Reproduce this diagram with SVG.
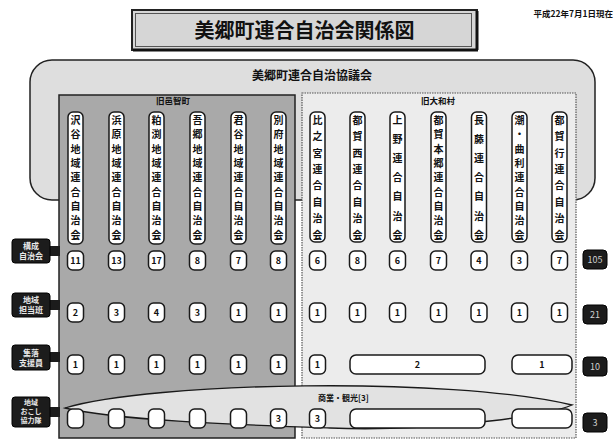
<svg xmlns="http://www.w3.org/2000/svg" width="615" height="439" viewBox="0 0 615 439">
<defs>
<style>
text{font-family:"Noto Sans CJK JP","Noto Sans",sans-serif;font-weight:bold;fill:#111}
.pill{fill:#fff;stroke:#1a1a1a;stroke-width:1.5}
.pt{font-size:10px;text-anchor:middle}
.nb{fill:#fff;stroke:#1a1a1a;stroke-width:1.5}
.nt{font-size:9px;text-anchor:middle}
.lab{fill:#1c1c1c;stroke:#000;stroke-width:1}
.lt{font-size:8px;fill:#e8e8e8;text-anchor:middle}
.tot{fill:#1c1c1c;stroke:#000;stroke-width:1}
.tt{font-size:9px;fill:#d0d0d0;text-anchor:middle;font-weight:normal}
</style>
</defs>
<rect width="615" height="439" fill="#fff"/>

<g id="date"><text x="613" y="17" font-size="8.5" text-anchor="end">平成22年7月1日現在</text></g>

<g id="title">
<rect x="132" y="10" width="345" height="40" fill="#d6d6d6" stroke="#222" stroke-width="2"/>
<rect x="135.5" y="13.5" width="336" height="33" fill="none" stroke="#555" stroke-width="1"/>
<line x1="477" y1="11" x2="477" y2="50" stroke="#111" stroke-width="3"/>
<line x1="133" y1="50" x2="478" y2="50" stroke="#111" stroke-width="3"/>
<text x="304.5" y="38" font-size="20" text-anchor="middle">美郷町連合自治会関係図</text>
</g>

<g id="council">
<rect x="30" y="60" width="565" height="140" rx="22" fill="#dedede" stroke="#222" stroke-width="1.5"/>
<text x="312" y="79.5" font-size="12" text-anchor="middle">美郷町連合自治協議会</text>
</g>

<g id="group-ochi">
<rect x="59" y="95" width="236" height="343" fill="#a9a9a9" stroke="#222" stroke-width="1.5"/>
<text x="173" y="103.5" font-size="8.5" text-anchor="middle">旧邑智町</text>
</g>
<g id="group-daiwa">
<rect x="302" y="93" width="274" height="345" fill="#ececec" stroke="#555" stroke-width="1.2" stroke-dasharray="1.5,1"/>
<text x="438" y="104" font-size="8.5" text-anchor="middle">旧大和村</text>
</g>

<g id="connectors">
<path d="M65,408 C150,382 450,376 572,405 C540,418 420,432 330,428 C250,425 120,421 65,408 Z" fill="#e2e2e2" stroke="#1a1a1a" stroke-width="1.3"/>
<text x="318" y="401" font-size="8">商業・観光[3]</text>
<rect x="49" y="246" width="11" height="10" fill="#1c1c1c"/>
<rect x="49" y="300" width="11" height="10" fill="#1c1c1c"/>
<rect x="49" y="352" width="11" height="10" fill="#1c1c1c"/>
<rect x="49" y="407" width="11" height="10" fill="#1c1c1c"/>
</g>

<g id="col-sawadani"><rect class="pill" x="68" y="112" width="15" height="132" rx="5"/>
<text class="pt"><tspan x="75.5" y="123.7">沢</tspan><tspan x="75.5" y="138.1">谷</tspan><tspan x="75.5" y="152.5">地</tspan><tspan x="75.5" y="166.8">域</tspan><tspan x="75.5" y="181.2">連</tspan><tspan x="75.5" y="195.6">合</tspan><tspan x="75.5" y="210">自</tspan><tspan x="75.5" y="224.3">治</tspan><tspan x="75.5" y="238.7">会</tspan></text></g>
<g id="col-hamahara"><rect class="pill" x="109" y="112" width="15" height="132" rx="5"/>
<text class="pt"><tspan x="116.5" y="123.7">浜</tspan><tspan x="116.5" y="138.1">原</tspan><tspan x="116.5" y="152.5">地</tspan><tspan x="116.5" y="166.8">域</tspan><tspan x="116.5" y="181.2">連</tspan><tspan x="116.5" y="195.6">合</tspan><tspan x="116.5" y="210">自</tspan><tspan x="116.5" y="224.3">治</tspan><tspan x="116.5" y="238.7">会</tspan></text></g>
<g id="col-kasubuchi"><rect class="pill" x="149" y="112" width="15" height="132" rx="5"/>
<text class="pt"><tspan x="156.5" y="123.7">粕</tspan><tspan x="156.5" y="138.1">渕</tspan><tspan x="156.5" y="152.5">地</tspan><tspan x="156.5" y="166.8">域</tspan><tspan x="156.5" y="181.2">連</tspan><tspan x="156.5" y="195.6">合</tspan><tspan x="156.5" y="210">自</tspan><tspan x="156.5" y="224.3">治</tspan><tspan x="156.5" y="238.7">会</tspan></text></g>
<g id="col-ago"><rect class="pill" x="190" y="112" width="15" height="132" rx="5"/>
<text class="pt"><tspan x="197.5" y="123.7">吾</tspan><tspan x="197.5" y="138.1">郷</tspan><tspan x="197.5" y="152.5">地</tspan><tspan x="197.5" y="166.8">域</tspan><tspan x="197.5" y="181.2">連</tspan><tspan x="197.5" y="195.6">合</tspan><tspan x="197.5" y="210">自</tspan><tspan x="197.5" y="224.3">治</tspan><tspan x="197.5" y="238.7">会</tspan></text></g>
<g id="col-kimidani"><rect class="pill" x="231" y="112" width="15" height="132" rx="5"/>
<text class="pt"><tspan x="238.5" y="123.7">君</tspan><tspan x="238.5" y="138.1">谷</tspan><tspan x="238.5" y="152.5">地</tspan><tspan x="238.5" y="166.8">域</tspan><tspan x="238.5" y="181.2">連</tspan><tspan x="238.5" y="195.6">合</tspan><tspan x="238.5" y="210">自</tspan><tspan x="238.5" y="224.3">治</tspan><tspan x="238.5" y="238.7">会</tspan></text></g>
<g id="col-befu"><rect class="pill" x="271" y="112" width="15" height="132" rx="5"/>
<text class="pt"><tspan x="278.5" y="123.7">別</tspan><tspan x="278.5" y="138.1">府</tspan><tspan x="278.5" y="152.5">地</tspan><tspan x="278.5" y="166.8">域</tspan><tspan x="278.5" y="181.2">連</tspan><tspan x="278.5" y="195.6">合</tspan><tspan x="278.5" y="210">自</tspan><tspan x="278.5" y="224.3">治</tspan><tspan x="278.5" y="238.7">会</tspan></text></g>

<g id="col-hinomiya"><rect class="pill" x="310" y="112" width="15" height="130" rx="5"/>
<text class="pt"><tspan x="317.5" y="123.7">比</tspan><tspan x="317.5" y="140.1">之</tspan><tspan x="317.5" y="156.6">宮</tspan><tspan x="317.5" y="173">連</tspan><tspan x="317.5" y="189.4">合</tspan><tspan x="317.5" y="205.8">自</tspan><tspan x="317.5" y="222.3">治</tspan><tspan x="317.5" y="238.7">会</tspan></text></g>
<g id="col-tsuganishi"><rect class="pill" x="350" y="112" width="15" height="130" rx="5"/>
<text class="pt"><tspan x="357.5" y="123.7">都</tspan><tspan x="357.5" y="140.1">賀</tspan><tspan x="357.5" y="156.6">西</tspan><tspan x="357.5" y="173">連</tspan><tspan x="357.5" y="189.4">合</tspan><tspan x="357.5" y="205.8">自</tspan><tspan x="357.5" y="222.3">治</tspan><tspan x="357.5" y="238.7">会</tspan></text></g>
<g id="col-kamino"><rect class="pill" x="390" y="112" width="15" height="130" rx="5"/>
<text class="pt"><tspan x="397.5" y="123.7">上</tspan><tspan x="397.5" y="142.9">野</tspan><tspan x="397.5" y="162">連</tspan><tspan x="397.5" y="181.2">合</tspan><tspan x="397.5" y="200.4">自</tspan><tspan x="397.5" y="219.5">治</tspan><tspan x="397.5" y="238.7">会</tspan></text></g>
<g id="col-tsugahongo"><rect class="pill" x="431" y="112" width="15" height="130" rx="5"/>
<text class="pt"><tspan x="438.5" y="123.7">都</tspan><tspan x="438.5" y="138.1">賀</tspan><tspan x="438.5" y="152.5">本</tspan><tspan x="438.5" y="166.8">郷</tspan><tspan x="438.5" y="181.2">連</tspan><tspan x="438.5" y="195.6">合</tspan><tspan x="438.5" y="210">自</tspan><tspan x="438.5" y="224.3">治</tspan><tspan x="438.5" y="238.7">会</tspan></text></g>
<g id="col-nagafuji"><rect class="pill" x="471.5" y="112" width="15" height="130" rx="5"/>
<text class="pt"><tspan x="479" y="123.7">長</tspan><tspan x="479" y="142.9">藤</tspan><tspan x="479" y="162">連</tspan><tspan x="479" y="181.2">合</tspan><tspan x="479" y="200.4">自</tspan><tspan x="479" y="219.5">治</tspan><tspan x="479" y="238.7">会</tspan></text></g>
<g id="col-ushio-magari"><rect class="pill" x="512" y="112" width="15" height="130" rx="5"/>
<text class="pt"><tspan x="519.5" y="123.7">潮</tspan><tspan x="519.5" y="138.1">・</tspan><tspan x="519.5" y="152.5">曲</tspan><tspan x="519.5" y="166.8">利</tspan><tspan x="519.5" y="181.2">連</tspan><tspan x="519.5" y="195.6">合</tspan><tspan x="519.5" y="210">自</tspan><tspan x="519.5" y="224.3">治</tspan><tspan x="519.5" y="238.7">会</tspan></text></g>
<g id="col-tsugayuki"><rect class="pill" x="552" y="112" width="15" height="130" rx="5"/>
<text class="pt"><tspan x="559.5" y="123.7">都</tspan><tspan x="559.5" y="140.1">賀</tspan><tspan x="559.5" y="156.6">行</tspan><tspan x="559.5" y="173">連</tspan><tspan x="559.5" y="189.4">合</tspan><tspan x="559.5" y="205.8">自</tspan><tspan x="559.5" y="222.3">治</tspan><tspan x="559.5" y="238.7">会</tspan></text></g>

<g id="row-labels">
<rect class="lab" x="12" y="239" width="38" height="24" rx="3"/>
<text class="lt"><tspan x="31" y="249">構成</tspan><tspan x="31" y="259">自治会</tspan></text>
<rect class="lab" x="12" y="293" width="38" height="24" rx="3"/>
<text class="lt"><tspan x="31" y="303">地域</tspan><tspan x="31" y="313">担当班</tspan></text>
<rect class="lab" x="12" y="345" width="38" height="25" rx="3"/>
<text class="lt"><tspan x="31" y="355.5">集落</tspan><tspan x="31" y="365.5">支援員</tspan></text>
<rect class="lab" x="12" y="397" width="38" height="30" rx="3"/>
<text class="lt" style="font-size:7px"><tspan x="31" y="405">地域</tspan><tspan x="31" y="413.8">おこし</tspan><tspan x="31" y="422.6">協力隊</tspan></text>
</g>

<g id="row1">
<rect class="nb" x="67.5" y="251" width="16" height="19" rx="5"/><text class="nt" x="75.5" y="263.7">11</text>
<rect class="nb" x="108.5" y="251" width="16" height="19" rx="5"/><text class="nt" x="116.5" y="263.7">13</text>
<rect class="nb" x="148.5" y="251" width="16" height="19" rx="5"/><text class="nt" x="156.5" y="263.7">17</text>
<rect class="nb" x="189.5" y="251" width="16" height="19" rx="5"/><text class="nt" x="197.5" y="263.7">8</text>
<rect class="nb" x="230.5" y="251" width="16" height="19" rx="5"/><text class="nt" x="238.5" y="263.7">7</text>
<rect class="nb" x="270.5" y="251" width="16" height="19" rx="5"/><text class="nt" x="278.5" y="263.7">8</text>
<rect class="nb" x="309.5" y="251" width="16" height="19" rx="5"/><text class="nt" x="317.5" y="263.7">6</text>
<rect class="nb" x="349.5" y="251" width="16" height="19" rx="5"/><text class="nt" x="357.5" y="263.7">8</text>
<rect class="nb" x="389.5" y="251" width="16" height="19" rx="5"/><text class="nt" x="397.5" y="263.7">6</text>
<rect class="nb" x="430.5" y="251" width="16" height="19" rx="5"/><text class="nt" x="438.5" y="263.7">7</text>
<rect class="nb" x="471" y="251" width="16" height="19" rx="5"/><text class="nt" x="479" y="263.7">4</text>
<rect class="nb" x="511.5" y="251" width="16" height="19" rx="5"/><text class="nt" x="519.5" y="263.7">3</text>
<rect class="nb" x="551.5" y="251" width="16" height="19" rx="5"/><text class="nt" x="559.5" y="263.7">7</text>
</g>

<g id="row2">
<rect class="nb" x="67.5" y="303" width="16" height="19" rx="5"/><text class="nt" x="75.5" y="315.7">2</text>
<rect class="nb" x="108.5" y="303" width="16" height="19" rx="5"/><text class="nt" x="116.5" y="315.7">3</text>
<rect class="nb" x="148.5" y="303" width="16" height="19" rx="5"/><text class="nt" x="156.5" y="315.7">4</text>
<rect class="nb" x="189.5" y="303" width="16" height="19" rx="5"/><text class="nt" x="197.5" y="315.7">3</text>
<rect class="nb" x="230.5" y="303" width="16" height="19" rx="5"/><text class="nt" x="238.5" y="315.7">1</text>
<rect class="nb" x="270.5" y="303" width="16" height="19" rx="5"/><text class="nt" x="278.5" y="315.7">1</text>
<rect class="nb" x="309.5" y="303" width="16" height="19" rx="5"/><text class="nt" x="317.5" y="315.7">1</text>
<rect class="nb" x="349.5" y="303" width="16" height="19" rx="5"/><text class="nt" x="357.5" y="315.7">1</text>
<rect class="nb" x="389.5" y="303" width="16" height="19" rx="5"/><text class="nt" x="397.5" y="315.7">1</text>
<rect class="nb" x="430.5" y="303" width="16" height="19" rx="5"/><text class="nt" x="438.5" y="315.7">1</text>
<rect class="nb" x="471" y="303" width="16" height="19" rx="5"/><text class="nt" x="479" y="315.7">1</text>
<rect class="nb" x="511.5" y="303" width="16" height="19" rx="5"/><text class="nt" x="519.5" y="315.7">1</text>
<rect class="nb" x="551.5" y="303" width="16" height="19" rx="5"/><text class="nt" x="559.5" y="315.7">1</text>
</g>

<g id="row3">
<rect class="nb" x="67.5" y="355" width="16" height="19" rx="5"/><text class="nt" x="75.5" y="367.7">1</text>
<rect class="nb" x="108.5" y="355" width="16" height="19" rx="5"/><text class="nt" x="116.5" y="367.7">1</text>
<rect class="nb" x="148.5" y="355" width="16" height="19" rx="5"/><text class="nt" x="156.5" y="367.7">1</text>
<rect class="nb" x="189.5" y="355" width="16" height="19" rx="5"/><text class="nt" x="197.5" y="367.7">1</text>
<rect class="nb" x="230.5" y="355" width="16" height="19" rx="5"/><text class="nt" x="238.5" y="367.7">1</text>
<rect class="nb" x="270.5" y="355" width="16" height="19" rx="5"/><text class="nt" x="278.5" y="367.7">1</text>
<rect class="nb" x="309.5" y="355" width="16" height="19" rx="5"/><text class="nt" x="317.5" y="367.7">1</text>
<rect class="nb" x="350" y="355" width="135" height="19" rx="6"/><text class="nt" x="417.5" y="367.7">2</text>
<rect class="nb" x="512" y="355" width="60" height="19" rx="6"/><text class="nt" x="542" y="367.7">1</text>
</g>

<g id="row4">
<rect class="nb" x="67.5" y="409" width="16" height="19" rx="5"/>
<rect class="nb" x="108.5" y="409" width="16" height="19" rx="5"/>
<rect class="nb" x="148.5" y="409" width="16" height="19" rx="5"/>
<rect class="nb" x="189.5" y="409" width="16" height="19" rx="5"/>
<rect class="nb" x="230.5" y="409" width="16" height="19" rx="5"/>
<rect class="nb" x="270.5" y="409" width="16" height="19" rx="5"/><text class="nt" x="278.5" y="421.7">3</text>
<rect class="nb" x="309.5" y="409" width="16" height="19" rx="5"/><text class="nt" x="317.5" y="421.7">3</text>
<rect class="nb" x="350" y="409" width="135" height="19" rx="6"/>
<rect class="nb" x="512" y="409" width="60" height="19" rx="6"/>
</g>

<g id="totals">
<rect class="tot" x="583" y="250" width="24" height="19" rx="4"/><text class="tt" x="595" y="262.7">105</text>
<rect class="tot" x="583" y="305" width="24" height="19" rx="4"/><text class="tt" x="595" y="317.7">21</text>
<rect class="tot" x="583" y="357" width="24" height="19" rx="4"/><text class="tt" x="595" y="369.7">10</text>
<rect class="tot" x="583" y="413" width="24" height="19" rx="4"/><text class="tt" x="595" y="425.7">3</text>
</g>
</svg>
